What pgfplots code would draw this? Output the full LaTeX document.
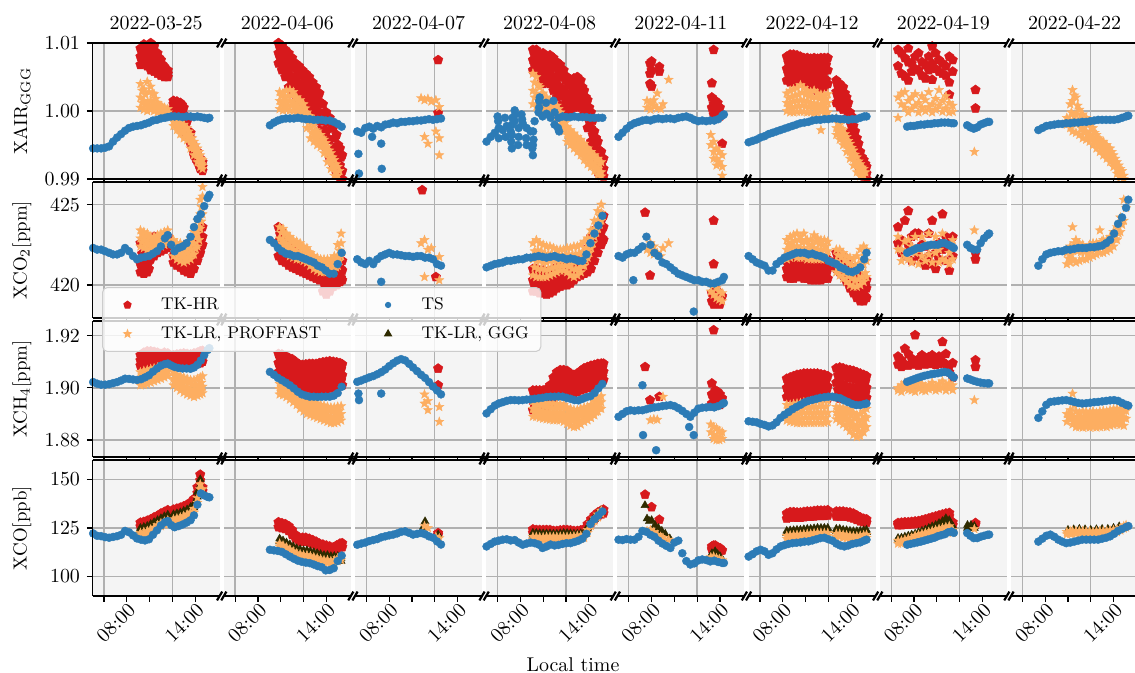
\documentclass[border=0pt]{standalone}
\usepackage{pgfplots}
\usepackage{pgfplotstable}
\pgfplotsset{compat=1.18}
\usetikzlibrary{plotmarks}

\definecolor{hrred}{HTML}{D7191C}
\definecolor{lrorange}{HTML}{FDAE61}
\definecolor{tsblue}{HTML}{2C7BB6}
\definecolor{gggdark}{HTML}{2F2B00}
\definecolor{bgpanel}{HTML}{F4F4F4}
\definecolor{gridgray}{HTML}{B0B0B0}
\definecolor{legendgray}{HTML}{CCCCCC}

\pgfdeclareplotmark{fstar}{%
  \pgfpathmoveto{\pgfpointpolar{90}{\pgfplotmarksize}}%
  \pgfpathlineto{\pgfpointpolar{126}{0.42*\pgfplotmarksize}}%
  \pgfpathlineto{\pgfpointpolar{162}{\pgfplotmarksize}}%
  \pgfpathlineto{\pgfpointpolar{198}{0.42*\pgfplotmarksize}}%
  \pgfpathlineto{\pgfpointpolar{234}{\pgfplotmarksize}}%
  \pgfpathlineto{\pgfpointpolar{270}{0.42*\pgfplotmarksize}}%
  \pgfpathlineto{\pgfpointpolar{306}{\pgfplotmarksize}}%
  \pgfpathlineto{\pgfpointpolar{342}{0.42*\pgfplotmarksize}}%
  \pgfpathlineto{\pgfpointpolar{18}{\pgfplotmarksize}}%
  \pgfpathlineto{\pgfpointpolar{54}{0.42*\pgfplotmarksize}}%
  \pgfpathclose
  \pgfusepathqfillstroke}

% ---------------- TS (blue) ----------------
\pgfplotstableread{
t a b c e
7.05 0.9945 422.3 1.9022 122.2
7.4 0.9945 422.2 1.9016 121.0
7.75 0.9945 422.2 1.9012 120.8
8.1 0.9946 422.1 1.9012 120.3
8.45 0.9948 422.0 1.9014 120.0
8.8 0.9955 421.9 1.9018 120.4
9.15 0.9961 421.9 1.9022 120.8
9.5 0.9966 422.0 1.9028 121.5
9.85 0.9971 422.3 1.9035 123.5
10.2 0.9975 422.1 1.9034 122.8
10.55 0.9977 421.8 1.9032 121.2
10.9 0.9978 421.6 1.9030 119.6
11.25 0.9979 421.7 1.9033 119.0
11.6 0.9981 421.75 1.9040 118.6
11.95 0.9983 421.8 1.9048 119.2
12.3 0.9986 421.95 1.9062 121.5
12.65 0.9987 422.1 1.9074 123.8
13.0 0.9989 422.4 1.9085 126.3
13.35 0.9990 422.9 1.9091 128.0
13.6 0.9991 423.1 1.9093 128.6
13.9 0.9992 422.5 1.9086 126.5
14.2 0.9992 422.1 1.9080 125.4
14.55 0.9992 422.3 1.9076 126.0
14.9 0.9991 422.4 1.9074 126.8
15.25 0.9992 422.6 1.9074 127.8
15.6 0.9992 423.0 1.9073 129.0
15.9 0.9991 423.6 1.9078 131.5
16.2 0.9992 424.1 1.9088 137.0
16.5 0.9991 424.4 1.9105 142.8
16.8 0.9990 424.9 1.9125 141.8
17.1 0.9989 425.4 1.9145 141.0
17.25 0.9990 425.6 1.9152 140.8
}\TSa
\pgfplotstableread{
t a b c e
11.05 0.9979 422.8 1.9061 113.8
11.4 0.9983 422.6 1.9050 113.5
11.75 0.9986 422.3 1.9038 113.2
12.1 0.9988 422.1 1.9029 112.7
12.45 0.9989 421.95 1.9020 111.5
12.8 0.9989 421.9 1.9010 110.3
13.15 0.9989 421.8 1.8998 109.2
13.5 0.9990 421.8 1.8985 108.2
13.85 0.9989 421.7 1.8975 107.6
14.2 0.9988 421.6 1.8970 107.2
14.55 0.9988 421.5 1.8966 106.9
14.9 0.9987 421.4 1.8966 106.2
15.25 0.9987 421.2 1.8965 105.4
15.6 0.9987 421.1 1.8966 104.8
15.95 0.9986 420.9 1.8966 103.2
16.3 0.9986 420.7 1.8966 103.4
16.65 0.9984 420.7 1.8970 104.3
17.0 0.9981 421.3 1.8980 108.0
17.35 0.9977 422.0 1.9004 110.8
}\TSb
\pgfplotstableread{
t a b c e
7.2 0.9970 421.6 1.9023 116.4
7.55 0.9968 421.4 1.9028 117.0
7.9 0.9975 421.3 1.9034 117.5
8.25 0.9977 421.5 1.9040 118.3
8.6 0.9974 421.3 1.9045 118.8
8.95 0.9978 421.6 1.9052 119.3
9.3 0.9976 421.8 1.9060 120.2
9.65 0.9980 421.9 1.9070 120.7
10.0 0.9981 422.0 1.9083 121.2
10.35 0.9983 421.9 1.9094 121.6
10.7 0.9982 421.9 1.9104 122.2
11.05 0.9984 421.85 1.9110 123.0
11.4 0.9984 421.8 1.9105 123.3
11.75 0.9985 421.8 1.9092 122.5
12.1 0.9985 421.75 1.9078 121.6
12.45 0.9986 421.8 1.9064 122.0
12.8 0.9986 421.8 1.9050 122.4
13.15 0.9987 421.7 1.9038 121.8
13.5 0.9988 421.7 1.9022 120.7
13.85 0.9987 421.6 1.9005 120.0
14.2 0.9988 421.3 1.8990 118.1
14.55 0.9989 421.2 1.8975 116.5
7.3 0.9937 nan 1.8978 nan
7.35 0.9908 nan 1.8953 nan
8.5 0.9962 nan nan nan
9.3 0.9952 420.2 1.8978 nan
9.35 0.9915 nan nan nan
}\TSc
\pgfplotstableread{
t a b c e
7.03 0.9955 421.1 1.8902 115.5
7.4 0.9962 421.2 1.8918 116.8
7.75 0.9968 421.3 1.8932 118.0
8.1 0.9975 421.35 1.8940 118.5
8.45 0.9972 421.4 1.8945 119.0
8.8 0.9978 421.5 1.8950 119.2
9.15 0.9970 421.5 1.8953 118.6
9.5 0.9985 421.55 1.8953 118.8
9.85 0.9975 421.6 1.8952 117.5
10.2 0.9982 421.6 1.8953 116.4
10.55 0.9975 421.7 1.8955 117.0
10.9 0.9970 421.7 1.8956 117.5
11.25 0.9985 421.75 1.8958 117.2
11.6 0.9998 421.8 1.8960 116.5
11.95 0.9992 421.75 1.8962 114.7
12.3 0.9996 421.7 1.8965 115.5
12.65 0.9990 421.75 1.8966 116.5
13.0 0.9998 421.8 1.8966 116.0
13.35 0.9990 421.7 1.8967 116.3
13.7 0.9992 421.7 1.8966 116.8
14.05 0.9991 421.6 1.8962 117.2
14.4 0.9991 421.65 1.8958 117.2
14.75 0.9992 421.6 1.8953 117.8
15.1 0.9991 421.5 1.8952 118.5
15.45 0.9991 421.5 1.8958 119.5
15.8 0.9991 421.9 1.8964 122.0
16.15 0.9990 422.6 1.8968 127.0
16.5 0.9990 423.2 1.8980 129.5
16.85 0.9990 423.7 1.8998 131.5
17.2 0.9990 424.3 1.9015 133.5
8.0 0.9992 nan nan nan
8.05 0.9985 nan nan nan
8.1 0.9960 nan nan nan
8.65 0.9990 nan nan nan
8.7 0.9962 nan nan nan
9.2 0.9955 nan nan nan
9.25 0.9945 nan nan nan
9.25 0.9965 nan nan nan
9.28 0.9980 nan nan nan
9.3 0.9990 nan nan nan
9.5 1.0001 nan nan nan
9.55 0.9995 nan nan nan
9.8 0.9950 nan nan nan
9.85 0.9962 nan nan nan
10.1 0.9995 nan nan nan
10.15 0.9988 nan nan nan
10.5 0.9960 nan nan nan
10.55 0.9950 nan nan nan
11.05 0.9945 nan nan nan
11.1 0.9935 nan nan nan
11.1 0.9950 nan nan nan
11.12 0.9970 nan nan nan
11.15 0.9958 nan nan nan
11.65 1.0005 nan nan nan
11.65 1.0015 nan nan nan
11.7 1.0020 nan nan nan
12.25 1.0012 nan nan nan
12.9 1.0015 nan nan nan
13.0 0.9980 nan nan nan
13.3 0.9975 nan nan nan
13.4 0.9970 nan nan nan
}\TSd
\pgfplotstableread{
t a b c e
7.1 0.9962 421.8 1.8889 119.0
7.45 0.9968 421.7 1.8900 118.8
7.8 0.9974 421.9 1.8910 119.3
8.15 0.9979 422.0 1.8914 119.0
8.5 0.9982 422.0 1.8912 119.0
8.85 0.9984 422.2 1.8914 120.5
9.2 0.9986 422.4 1.8914 123.5
9.55 0.9987 423.0 1.8918 123.0
9.9 0.9986 422.5 1.8922 121.5
10.25 0.9988 422.0 1.8925 120.5
10.6 0.9989 421.8 1.8927 118.5
10.95 0.9988 421.4 1.8930 117.0
11.3 0.9989 421.3 1.8932 115.8
11.65 0.9989 421.1 1.8934 114.7
12.0 0.9988 420.9 1.8930 117.5
12.35 0.9990 420.7 1.8922 118.5
12.7 0.9991 420.6 1.8912 112.0
13.05 0.9992 420.5 1.8900 108.0
13.4 0.9990 420.4 1.8889 106.2
13.75 0.9987 420.3 1.8905 106.8
14.1 0.9985 420.3 1.8920 108.3
14.45 0.9986 420.2 1.8924 108.8
14.8 0.9985 420.2 1.8925 108.5
15.15 0.9986 420.1 1.8927 107.8
15.5 0.9986 420.1 1.8925 108.2
15.85 0.9988 420.2 1.8930 107.5
16.2 0.9993 420.3 1.8938 107.0
16.35 0.9995 420.5 1.8942 107.0
8.4 nan 420.3 nan nan
13.7 nan 418.35 1.8819 nan
9.2 nan nan 1.9010 nan
9.25 nan nan 1.8819 nan
10.4 nan nan 1.8761 nan
13.3 nan nan 1.8850 nan
}\TSe
\pgfplotstableread{
t a b c e
7.0 0.9954 421.8 1.8872 110.3
7.35 0.9956 421.6 1.8870 111.5
7.7 0.9958 421.4 1.8868 113.0
8.05 0.9961 421.3 1.8862 113.8
8.4 0.9963 421.2 1.8858 113.0
8.75 0.9966 420.9 1.8852 111.2
9.1 0.9968 420.9 1.8856 112.0
9.45 0.9970 421.3 1.8868 114.0
9.8 0.9972 421.5 1.8885 115.5
10.15 0.9974 421.7 1.8897 116.2
10.5 0.9976 421.8 1.8907 116.8
10.85 0.9978 421.9 1.8918 117.2
11.2 0.9980 422.0 1.8927 117.4
11.55 0.9982 422.0 1.8935 117.6
11.9 0.9983 422.0 1.8944 118.0
12.25 0.9984 421.9 1.8950 118.1
12.6 0.9986 421.95 1.8954 118.6
12.95 0.9987 421.85 1.8958 119.2
13.3 0.9987 421.8 1.8962 119.8
13.65 0.9988 421.7 1.8964 120.0
14.0 0.9988 421.5 1.8966 119.2
14.35 0.9989 421.4 1.8966 118.5
14.7 0.9989 421.3 1.8963 117.0
15.05 0.9988 421.1 1.8960 116.0
15.4 0.9988 421.0 1.8952 115.5
15.75 0.9987 420.85 1.8945 116.0
16.1 0.9988 420.8 1.8938 116.8
16.45 0.9988 420.9 1.8934 117.2
16.8 0.9990 421.1 1.8934 117.6
17.15 0.9992 421.6 1.8938 118.5
17.35 0.9992 422.0 1.8940 119.0
}\TSf
\pgfplotstableread{
t a b c e
9.4 0.9977 422.0 1.9023 116.4
9.7 0.9978 422.1 1.9028 116.8
10.0 0.9978 422.2 1.9033 117.2
10.3 0.9979 422.3 1.9038 117.6
10.6 0.9980 422.3 1.9042 118.0
10.9 0.9980 422.4 1.9046 118.5
11.2 0.9981 422.45 1.9049 119.0
11.5 0.9981 422.5 1.9052 119.5
11.8 0.9982 422.5 1.9054 120.0
12.1 0.9982 422.5 1.9056 120.8
12.4 0.9983 422.6 1.9059 121.3
12.7 0.9983 422.6 1.9061 121.8
13.0 0.9983 422.5 1.9058 122.8
13.3 0.9982 422.4 1.9048 123.2
13.5 0.9982 422.3 1.9040 122.5
14.67 0.9979 422.5 1.9036 122.4
14.95 0.9976 422.3 1.9032 121.0
15.25 0.9974 422.2 1.9027 119.8
15.55 0.9976 422.2 1.9023 119.8
15.85 0.9980 422.6 1.9020 120.5
16.15 0.9982 422.9 1.9018 121.0
16.45 0.9984 423.1 1.9017 121.5
16.6 0.9984 423.2 1.9017 121.6
}\TSg
\pgfplotstableread{
t a b c e
9.4 0.9972 421.2 1.8885 118.0
9.75 0.9975 421.6 1.8910 119.5
10.1 0.9978 421.9 1.8935 121.0
10.45 0.9979 422.0 1.8946 121.6
10.8 0.9980 422.05 1.8948 120.5
11.15 0.9981 422.1 1.8950 119.0
11.5 0.9981 422.1 1.8952 118.0
11.85 0.9982 422.2 1.8953 117.2
12.2 0.9982 422.2 1.8950 117.5
12.55 0.9983 422.25 1.8946 118.0
12.9 0.9983 422.3 1.8942 118.5
13.25 0.9984 422.3 1.8940 119.0
13.6 0.9984 422.3 1.8941 119.0
13.95 0.9985 422.35 1.8943 119.0
14.3 0.9986 422.35 1.8945 119.0
14.65 0.9987 422.4 1.8946 119.0
15.0 0.9987 422.45 1.8948 119.5
15.35 0.9987 422.6 1.8950 120.0
15.7 0.9987 422.8 1.8952 120.7
16.05 0.9987 423.2 1.8953 122.0
16.4 0.9988 423.8 1.8950 123.5
16.75 0.9990 424.2 1.8942 124.5
17.1 0.9992 424.8 1.8935 125.5
17.3 0.9993 425.3 1.8932 126.0
}\TSh

% ---------------- TK-HR (red) ----------------
\pgfplotstableread{
t a1 a2 a3 b1 b2 b3 c1 c2 c3 e1 e2
11.2 1.0068 1.0080 1.0092 420.8 421.3 422.6 1.9085 1.9105 1.9125 127.8 125.8
11.5 1.0070 1.0085 1.0098 420.7 421.0 421.6 1.9090 1.9115 1.9135 128.2 126.2
11.8 1.0066 1.0082 1.0096 420.8 421.2 421.8 1.9095 1.9120 1.9140 128.8 126.8
12.1 1.0060 1.0078 1.0100 421.6 422.2 422.8 1.9095 1.9120 1.9140 129.5 127.5
12.4 1.0058 1.0075 1.0095 421.8 422.4 423.0 1.9090 1.9115 1.9138 130.5 128.5
12.7 1.0055 1.0070 1.0085 422.0 422.5 423.0 1.9088 1.9110 1.9135 131.3 129.3
13.0 1.0052 1.0062 1.0075 422.1 422.6 423.0 1.9090 1.9112 1.9130 132.5 130.5
13.3 1.0050 1.0056 1.0065 422.2 422.7 423.1 1.9095 1.9115 1.9135 133.3 131.3
13.6 1.0050 1.0055 1.0060 422.3 422.6 423.0 1.9095 1.9115 1.9132 134.2 132.2
14.1 1.0004 1.0010 1.0015 421.4 421.8 422.2 1.9085 1.9105 1.9125 134.5 132.5
14.4 1.0001 1.0008 1.0014 421.2 421.6 422.0 1.9085 1.9105 1.9128 135.0 133.0
14.7 1.0000 1.0006 1.0012 421.1 421.5 422.0 1.9088 1.9108 1.9130 135.5 133.5
15.0 0.9985 0.9995 1.0005 420.9 421.4 421.9 1.9090 1.9110 1.9132 136.2 134.2
15.3 0.9962 0.9972 0.9985 420.8 421.3 422.0 1.9090 1.9110 1.9130 137.0 135.0
15.6 0.9952 0.9960 0.9968 420.7 421.5 422.2 1.9088 1.9108 1.9128 138.2 136.0
15.9 0.9935 0.9940 0.9946 421.0 421.8 422.6 1.9090 1.9110 1.9132 140.0 137.5
16.2 0.9925 0.9932 0.9940 421.5 422.3 423.0 1.9092 1.9112 1.9135 146.0 143.0
16.45 0.9915 0.9922 0.9930 422.0 422.8 423.5 1.9095 1.9118 1.9140 152.5 149.5
16.65 0.9912 0.9918 0.9925 422.5 423.0 423.6 1.9100 1.9120 1.9142 146.0 144.0
}\HRa
\pgfplotstableread{
t a1 a2 a3 b1 b2 b3 c1 c2 c3 e1 e2
11.8 1.0070 1.0085 1.0100 421.8 422.7 423.6 1.9060 1.9095 1.9130 128.0 125.5
12.1 1.0060 1.0078 1.0096 421.5 422.5 423.3 1.9050 1.9090 1.9128 127.5 125.0
12.4 1.0050 1.0070 1.0090 421.4 422.1 422.8 1.9040 1.9085 1.9122 127.0 124.5
12.7 1.0035 1.0060 1.0085 421.2 421.8 422.4 1.9030 1.9075 1.9115 126.0 123.5
13.0 1.0028 1.0050 1.0078 421.1 421.6 422.2 1.9020 1.9065 1.9110 124.0 121.5
13.3 1.0022 1.0045 1.0070 421.0 421.5 422.0 1.9012 1.9055 1.9100 121.5 119.5
13.6 1.0018 1.0040 1.0066 420.9 421.4 421.9 1.9005 1.9045 1.9090 120.0 118.0
13.9 1.0014 1.0035 1.0060 420.8 421.3 421.8 1.9002 1.9045 1.9088 120.0 118.0
14.2 1.0008 1.0030 1.0055 420.7 421.2 421.7 1.9000 1.9045 1.9090 120.0 118.0
14.5 1.0002 1.0025 1.0050 420.6 421.1 421.6 1.8998 1.9045 1.9092 119.5 117.5
14.8 0.9995 1.0018 1.0042 420.5 421.0 421.5 1.8995 1.9042 1.9092 118.8 116.8
15.1 0.9985 1.0010 1.0035 420.4 420.9 421.4 1.8992 1.9040 1.9092 118.0 116.0
15.4 0.9972 0.9998 1.0026 420.3 420.8 421.3 1.8990 1.9040 1.9095 117.0 115.0
15.7 0.9960 0.9985 1.0010 419.6 420.4 421.2 1.8992 1.9042 1.9098 116.5 114.5
16.0 0.9945 0.9970 0.9998 419.4 420.2 421.1 1.8995 1.9045 1.9100 116.0 114.0
16.3 0.9930 0.9958 0.9990 419.6 420.3 421.1 1.8998 1.9048 1.9102 115.5 113.5
16.6 0.9920 0.9945 0.9975 419.9 420.4 421.0 1.9002 1.9050 1.9100 115.0 113.0
16.9 0.9908 0.9935 0.9965 420.0 420.5 421.1 1.9005 1.9050 1.9098 116.0 114.0
17.2 0.9902 0.9920 0.9945 420.2 420.7 421.3 1.9008 1.9050 1.9095 117.0 115.0
17.4 0.9900 0.9912 0.9935 420.3 420.9 421.5 1.9010 1.9048 1.9090 117.2 115.2
}\HRb
\pgfplotstableread{
t a1 a2 a3 b1 b2 b3 c1 c2 c3 e1 e2
12.9 nan nan nan 425.9 nan nan nan nan nan nan nan
14.1 nan nan nan 420.5 nan nan nan nan nan nan nan
14.3 1.0075 0.9997 nan nan nan nan 1.9074 1.9010 nan 122.4 121.5
}\HRc
\pgfplotstableread{
t a1 a2 a3 b1 b2 b3 c1 c2 c3 e1 e2
11.1 1.0060 1.0075 1.0090 419.6 420.3 421.0 1.8915 1.8950 1.8990 124.3 122.5
11.4 1.0056 1.0072 1.0090 419.6 420.3 421.0 1.8915 1.8950 1.8990 124.0 122.3
11.7 1.0040 1.0060 1.0082 419.5 420.2 420.9 1.8915 1.8950 1.8990 124.0 122.3
12.0 1.0040 1.0060 1.0085 419.5 420.2 420.9 1.8920 1.8955 1.8990 124.0 122.0
12.3 1.0042 1.0062 1.0080 419.4 420.1 420.8 1.8930 1.8960 1.8995 124.0 122.0
12.6 1.0040 1.0060 1.0082 419.5 420.1 420.8 1.8940 1.8970 1.9010 124.0 122.0
12.9 1.0030 1.0050 1.0078 419.6 420.3 421.0 1.8955 1.8995 1.9040 123.5 121.8
13.2 1.0020 1.0045 1.0072 419.8 420.4 421.0 1.8970 1.9015 1.9060 123.5 121.8
13.5 1.0008 1.0035 1.0068 419.9 420.5 421.2 1.8978 1.9025 1.9068 123.8 122.0
13.8 1.0005 1.0030 1.0060 420.0 420.6 421.3 1.8978 1.9025 1.9068 124.0 122.2
14.1 1.0002 1.0025 1.0050 420.0 420.6 421.3 1.8980 1.9025 1.9065 124.0 122.2
14.4 1.0001 1.0022 1.0046 420.1 420.7 421.2 1.8980 1.9020 1.9055 123.8 122.0
14.7 1.0005 1.0025 1.0048 420.3 420.8 421.3 1.8980 1.9018 1.9050 123.5 121.8
15.0 1.0008 1.0028 1.0050 420.5 420.9 421.4 1.8985 1.9020 1.9055 123.5 121.8
15.3 1.0005 1.0025 1.0045 420.6 421.0 421.6 1.8990 1.9028 1.9065 123.8 122.0
15.6 0.9995 1.0010 1.0030 420.7 421.2 421.8 1.8995 1.9035 1.9075 124.5 122.5
15.9 0.9975 0.9995 1.0016 420.8 421.5 422.3 1.9000 1.9040 1.9080 127.0 125.0
16.2 0.9955 0.9975 0.9998 421.0 422.0 423.0 1.9005 1.9045 1.9085 129.5 127.5
16.5 0.9930 0.9950 0.9970 421.5 422.5 423.4 1.9010 1.9050 1.9088 131.5 129.5
16.8 0.9910 0.9930 0.9955 422.0 423.0 423.8 1.9020 1.9055 1.9092 133.0 131.0
17.1 0.9905 0.9920 0.9940 422.5 423.3 424.0 1.9025 1.9060 1.9093 134.0 132.0
17.3 0.9904 0.9915 0.9930 422.8 423.6 424.3 1.9030 1.9062 1.9093 134.5 132.5
}\HRd
\pgfplotstableread{
t a1 a2 a3 b1 b2 b3 c1 c2 c3 e1 e2
9.43 nan nan nan 424.5 nan nan 1.9080 nan nan 142.2 nan
9.87 1.0040 1.0055 1.0070 420.6 nan nan 1.8953 nan nan nan nan
10.0 1.0036 1.0060 1.0073 nan nan nan nan nan nan 135.8 nan
10.68 1.0065 1.0058 nan nan nan nan 1.8966 nan nan 129.3 nan
15.29 1.0041 1.0020 1.0005 419.0 419.5 nan 1.9017 1.8975 1.8940 115.5 114.0
15.45 1.0090 1.0010 0.9995 424.0 421.3 418.8 1.9221 1.8960 1.8930 116.0 114.5
15.6 1.0015 1.0000 nan 419.2 419.8 nan 1.8990 1.8950 nan 116.0 114.5
15.8 1.0012 0.9995 nan 419.0 419.6 nan 1.8985 1.8945 nan 115.0 113.5
16.0 1.0005 0.9992 nan 418.8 419.4 nan 1.8975 1.8935 nan 114.7 113.0
16.2 0.9952 nan nan 419.3 nan nan 1.8960 nan nan 113.5 nan
}\HRe
\pgfplotstableread{
t a1 a2 a3 b1 b2 b3 c1 c2 c3 e1 e2
10.35 1.0045 1.0062 1.0080 420.5 421.0 421.5 1.8965 1.9000 1.9035 132.5 129.8
10.65 1.0042 1.0062 1.0083 420.4 420.9 421.4 1.8962 1.9000 1.9040 133.2 130.5
10.95 1.0042 1.0063 1.0083 420.4 420.9 421.4 1.8960 1.9005 1.9045 133.2 130.5
11.25 1.0042 1.0063 1.0082 420.5 421.0 421.5 1.8958 1.9005 1.9050 133.0 130.3
11.55 1.0042 1.0062 1.0080 420.5 421.0 421.6 1.8958 1.9005 1.9052 133.0 130.3
11.85 1.0041 1.0060 1.0078 420.4 420.9 421.5 1.8958 1.9008 1.9055 133.3 130.6
12.15 1.0041 1.0060 1.0078 420.4 420.9 421.5 1.8960 1.9010 1.9055 133.5 130.8
12.45 1.0036 1.0058 1.0077 420.3 420.8 421.4 1.8960 1.9010 1.9055 133.5 130.8
12.75 1.0032 1.0055 1.0078 420.3 420.8 421.4 1.8962 1.9010 1.9055 133.8 131.0
13.05 1.0030 1.0055 1.0077 420.3 420.8 421.4 1.8962 1.9010 1.9055 134.0 131.3
13.35 1.0032 1.0055 1.0078 420.3 420.8 421.5 1.8962 1.9010 1.9052 134.0 131.3
13.65 1.0035 1.0058 1.0078 420.4 420.9 421.5 1.8962 1.9005 1.9050 134.0 131.3
13.95 1.0040 1.0060 1.0078 420.4 421.0 421.6 1.8960 1.9005 1.9045 134.2 131.5
14.7 1.0012 1.0028 1.0045 421.0 421.5 422.0 1.8965 1.9020 1.9075 133.5 131.0
15.0 1.0006 1.0022 1.0040 420.8 421.4 422.0 1.8960 1.9018 1.9078 133.5 131.0
15.3 1.0002 1.0018 1.0035 420.6 421.2 421.8 1.8958 1.9012 1.9075 133.5 131.0
15.6 0.9990 1.0005 1.0020 420.2 420.8 421.5 1.8955 1.9005 1.9070 133.2 130.8
15.9 0.9970 0.9985 0.9998 419.8 420.5 421.2 1.8952 1.9002 1.9068 133.0 130.5
16.2 0.9950 0.9962 0.9978 419.5 420.2 421.0 1.8952 1.9000 1.9065 132.5 130.0
16.5 0.9930 0.9945 0.9960 419.2 419.9 420.8 1.8955 1.9000 1.9060 131.5 129.2
16.8 0.9912 0.9925 0.9940 419.0 419.7 420.5 1.8958 1.9000 1.9055 130.5 128.5
17.1 0.9904 0.9915 0.9928 419.0 419.6 420.3 1.8960 1.9000 1.9050 129.8 128.0
17.35 0.9900 0.9908 0.9918 419.2 419.8 420.3 1.8962 1.9000 1.9045 129.5 127.8
}\HRf
\pgfplotstableread{
t a1 a2 a3 b1 b2 b3 c1 c2 c3 e1 e2
8.6 1.0066 1.0090 nan 423.6 422.6 nan 1.9090 1.9120 nan 127.6 126.5
8.9 1.0085 1.0055 nan 422.0 422.8 nan 1.9106 1.9080 nan 127.8 126.5
9.2 1.0051 1.0078 nan 424.0 421.8 nan 1.9150 1.9090 nan 128.0 126.8
9.5 1.0072 1.0045 1.0092 424.6 422.5 nan 1.9130 1.9085 nan 128.0 126.8
9.8 1.0070 1.0058 nan 423.0 421.5 nan 1.9112 1.9090 nan 128.2 127.0
10.1 1.0062 1.0080 nan 422.2 423.2 nan 1.9202 1.9100 nan 128.4 127.0
10.4 1.0085 1.0060 nan 423.2 421.8 nan 1.9110 1.9085 nan 128.6 127.2
10.7 1.0072 1.0052 nan 421.5 422.5 nan 1.9125 1.9095 nan 129.0 127.5
11.0 1.0068 1.0048 nan 422.4 421.2 nan 1.9110 1.9090 nan 129.5 128.0
11.3 1.0080 1.0060 nan 423.2 421.8 nan 1.9118 1.9092 nan 130.0 128.5
11.6 1.0095 1.0046 1.0070 424.0 421.3 nan 1.9125 1.9095 nan 130.5 129.0
11.9 1.0085 1.0062 nan 422.0 421.0 nan 1.9110 1.9088 nan 131.0 129.5
12.2 1.0075 1.0058 nan 422.6 421.6 nan 1.9120 1.9092 nan 131.5 130.0
12.5 1.0070 1.0055 nan 424.4 422.2 nan 1.9176 1.9100 nan 132.0 130.5
12.8 1.0066 1.0052 nan 423.0 421.5 nan 1.9130 1.9090 nan 132.5 131.0
13.1 1.0080 1.0042 1.0024 420.9 422.4 nan 1.9085 1.9060 nan 132.8 131.0
13.4 1.0075 1.0058 nan 421.8 423.0 nan 1.9095 1.9040 nan 128.0 126.5
15.4 1.0031 1.0004 nan 422.0 421.6 nan 1.9106 1.9080 nan 127.6 126.8
}\HRg
\pgfplotstableread{
t a1 a2 a3 b1 b2 b3 c1 c2 c3 e1 e2
12.0 nan nan nan nan nan nan nan nan nan nan nan
}\HRh

% ---- TK-HR, further points inside the dense clouds ----
\pgfplotstableread{
u a4 a5 b4 b5 c4 c5
11.35 1.0074 1.0086 421.05 421.95 1.9095 1.9115
11.65 1.0078 1.0092 420.85 421.3 1.9102 1.9125
11.95 1.0074 1.0089 421.0 421.5 1.9108 1.9130
12.25 1.0069 1.0089 421.9 422.5 1.9108 1.9130
12.55 1.0066 1.0085 422.1 422.7 1.9102 1.9126
12.85 1.0062 1.0078 422.25 422.75 1.9099 1.9122
13.15 1.0057 1.0068 422.35 422.8 1.9101 1.9121
13.45 1.0053 1.0060 422.45 422.9 1.9105 1.9125
14.25 1.0007 1.0012 421.6 422.0 1.9095 1.9115
14.55 1.0004 1.0011 421.4 421.8 1.9095 1.9116
14.85 1.0003 1.0009 421.3 421.75 1.9098 1.9119
15.15 0.9980 0.9990 421.15 421.65 1.9100 1.9121
15.45 0.9960 0.9970 421.0 421.75 1.9098 1.9118
15.75 0.9945 0.9952 421.2 422.0 1.9098 1.9119
16.05 0.9930 0.9936 421.65 422.45 1.9100 1.9122
16.35 0.9920 0.9928 421.9 422.6 1.9104 1.9128
16.55 0.9915 0.9922 422.4 423.0 1.9107 1.9130
}\HRax
\pgfplotstableread{
u a4 a5 b4 b5 c4 c5
11.95 1.0078 1.0092 422.25 423.15 1.9078 1.9112
12.25 1.0069 1.0087 422.0 422.9 1.9070 1.9109
12.55 1.0060 1.0080 421.75 422.45 1.9062 1.9104
12.85 1.0048 1.0072 421.5 422.1 1.9052 1.9095
13.15 1.0039 1.0064 421.35 421.9 1.9042 1.9088
13.45 1.0034 1.0058 421.25 421.75 1.9034 1.9078
13.75 1.0029 1.0053 421.15 421.65 1.9025 1.9068
14.05 1.0024 1.0048 421.05 421.55 1.9024 1.9066
14.35 1.0019 1.0042 420.95 421.45 1.9022 1.9068
14.65 1.0014 1.0038 420.85 421.35 1.9022 1.9068
14.95 1.0006 1.0030 420.75 421.25 1.9018 1.9067
15.25 0.9998 1.0022 420.65 421.15 1.9016 1.9066
15.55 0.9985 1.0012 420.55 421.05 1.9015 1.9068
15.85 0.9972 0.9998 420.0 420.8 1.9017 1.9070
16.15 0.9958 0.9984 419.8 420.65 1.9020 1.9072
16.45 0.9944 0.9974 419.95 420.7 1.9023 1.9075
16.75 0.9932 0.9960 420.15 420.7 1.9026 1.9075
17.05 0.9922 0.9950 420.25 420.8 1.9028 1.9074
17.3 0.9911 0.9932 420.45 421.0 1.9029 1.9072
}\HRbx
\pgfplotstableread{
u a4 a5 b4 b5 c4 c5
11.25 1.0068 1.0082 419.95 420.65 1.8932 1.8970
11.55 1.0064 1.0081 419.95 420.65 1.8932 1.8970
11.85 1.0050 1.0071 419.85 420.55 1.8932 1.8970
12.15 1.0050 1.0072 419.85 420.55 1.8938 1.8972
12.45 1.0052 1.0071 419.75 420.45 1.8945 1.8978
12.75 1.0050 1.0071 419.8 420.45 1.8955 1.8990
13.05 1.0040 1.0064 419.95 420.65 1.8975 1.9018
13.35 1.0032 1.0058 420.1 420.7 1.8992 1.9038
13.65 1.0022 1.0052 420.2 420.85 1.9002 1.9046
13.95 1.0018 1.0045 420.3 420.95 1.9002 1.9046
14.25 1.0014 1.0038 420.3 420.95 1.9002 1.9045
14.55 1.0012 1.0034 420.4 420.95 1.9000 1.9038
14.85 1.0015 1.0036 420.55 421.05 1.8999 1.9034
15.15 1.0018 1.0039 420.7 421.15 1.9002 1.9038
15.45 1.0015 1.0035 420.8 421.3 1.9009 1.9046
15.75 1.0002 1.0020 420.95 421.5 1.9015 1.9055
16.05 0.9985 1.0005 421.15 421.9 1.9020 1.9060
16.35 0.9965 0.9986 421.5 422.5 1.9025 1.9065
16.65 0.9940 0.9960 422.0 422.95 1.9030 1.9069
16.95 0.9920 0.9942 422.5 423.4 1.9038 1.9074
17.2 0.9912 0.9930 422.9 423.65 1.9042 1.9076
}\HRdx
\pgfplotstableread{
u a4 a5 b4 b5 c4 c5
10.5 1.0054 1.0071 420.75 421.25 1.8982 1.9018
10.8 1.0052 1.0072 420.65 421.15 1.8981 1.9020
11.1 1.0052 1.0073 420.65 421.15 1.8982 1.9025
11.4 1.0052 1.0072 420.75 421.25 1.8982 1.9028
11.7 1.0052 1.0071 420.75 421.3 1.8982 1.9028
12.0 1.0050 1.0069 420.65 421.2 1.8983 1.9032
12.3 1.0050 1.0069 420.65 421.2 1.8985 1.9032
12.6 1.0047 1.0068 420.55 421.1 1.8985 1.9032
12.9 1.0044 1.0066 420.55 421.1 1.8986 1.9032
13.2 1.0042 1.0066 420.55 421.1 1.8986 1.9032
13.5 1.0044 1.0066 420.55 421.15 1.8986 1.9031
13.8 1.0046 1.0068 420.65 421.2 1.8984 1.9028
14.85 1.0020 1.0036 421.25 421.75 1.8992 1.9048
15.15 1.0014 1.0031 421.1 421.7 1.8989 1.9048
15.45 1.0010 1.0026 420.9 421.5 1.8985 1.9044
15.75 0.9998 1.0012 420.5 421.15 1.8980 1.9038
16.05 0.9978 0.9992 420.15 420.85 1.8977 1.9035
16.35 0.9956 0.9970 419.85 420.6 1.8976 1.9032
16.65 0.9938 0.9952 419.55 420.35 1.8978 1.9030
16.95 0.9918 0.9932 419.35 420.1 1.8979 1.9028
17.25 0.9910 0.9922 419.3 419.95 1.8980 1.9025
}\HRfx
\pgfplotstableread{
u a4 a5 b4 b5 c4 c5
12.0 nan nan nan nan nan nan
}\NOX

% ---------------- TK-LR PROFFAST (orange) ----------------
\pgfplotstableread{
t a1 a2 a3 b1 b2 b3 c1 c2 c3 e1 e2
11.2 1.0005 1.0020 1.0040 422.4 422.9 423.4 1.9010 1.9035 1.9060 122.5 121.0
11.5 1.0002 1.0015 1.0032 422.3 422.8 423.3 1.9012 1.9040 1.9065 123.0 121.5
11.8 1.0000 1.0012 1.0043 422.2 422.7 423.2 1.9015 1.9045 1.9068 123.5 122.0
12.1 1.0002 1.0015 1.0036 422.1 422.6 423.0 1.9020 1.9050 1.9072 124.3 122.8
12.4 1.0000 1.0010 1.0025 422.2 422.6 423.0 1.9025 1.9055 1.9075 125.2 123.7
12.7 0.9998 1.0005 1.0012 422.3 422.7 423.1 1.9030 1.9058 1.9078 126.5 125.0
13.0 0.9996 1.0002 1.0008 422.4 422.8 423.2 1.9035 1.9060 1.9080 127.5 126.0
13.3 0.9995 1.0000 1.0005 422.5 422.9 423.3 1.9040 1.9062 1.9082 128.3 126.8
13.6 0.9994 0.9998 1.0003 422.6 423.0 423.4 1.9045 1.9065 1.9085 129.0 127.5
14.1 0.9978 0.9985 0.9990 421.8 422.3 422.8 1.9010 1.9035 1.9060 129.5 128.0
14.4 0.9972 0.9980 0.9987 421.6 422.1 422.6 1.9000 1.9025 1.9050 130.0 128.5
14.7 0.9966 0.9975 0.9983 421.5 422.0 422.6 1.8990 1.9015 1.9045 130.5 129.0
15.0 0.9960 0.9970 0.9980 421.4 421.9 422.5 1.8982 1.9005 1.9040 131.2 129.7
15.3 0.9957 0.9965 0.9975 421.5 422.0 422.6 1.8975 1.9000 1.9035 132.0 130.5
15.6 0.9945 0.9955 0.9965 421.6 422.2 422.9 1.8970 1.8995 1.9030 133.0 131.5
15.9 0.9935 0.9945 0.9955 421.9 422.6 423.3 1.8965 1.8990 1.9030 135.0 133.0
16.2 0.9925 0.9935 0.9945 422.4 423.2 424.0 1.8970 1.8995 1.9035 140.5 138.0
16.45 0.9918 0.9925 0.9935 423.5 424.4 425.3 1.8975 1.9000 1.9040 147.5 145.0
16.65 0.9915 0.9920 0.9928 424.4 425.5 426.1 1.8980 1.9005 1.9045 145.0 142.5
}\LRa
\pgfplotstableread{
t a1 a2 a3 b1 b2 b3 c1 c2 c3 e1 e2
11.9 1.0003 1.0015 1.0028 422.3 422.9 423.6 1.8975 1.8995 1.9015 117.0 115.5
12.2 1.0001 1.0012 1.0026 422.2 422.8 423.5 1.8972 1.8992 1.9012 116.0 114.5
12.5 1.0002 1.0014 1.0030 422.0 422.6 423.2 1.8965 1.8985 1.9005 115.0 113.5
12.8 1.0001 1.0015 1.0031 421.8 422.4 423.0 1.8955 1.8975 1.8995 114.0 112.5
13.1 1.0000 1.0012 1.0028 421.7 422.2 422.8 1.8945 1.8965 1.8985 113.0 111.5
13.4 0.9998 1.0008 1.0020 421.6 422.1 422.7 1.8935 1.8955 1.8975 112.0 110.5
13.7 0.9996 1.0004 1.0016 421.6 422.0 422.6 1.8920 1.8945 1.8965 111.5 110.0
14.0 0.9990 0.9998 1.0010 421.5 421.9 422.4 1.8910 1.8935 1.8958 111.0 109.5
14.3 0.9975 0.9988 0.9998 421.4 421.8 422.3 1.8900 1.8928 1.8952 111.0 109.5
14.6 0.9960 0.9975 0.9992 421.2 421.6 422.0 1.8895 1.8922 1.8948 110.5 109.0
14.9 0.9955 0.9965 0.9980 421.0 421.4 421.8 1.8890 1.8915 1.8945 110.0 108.5
15.2 0.9950 0.9960 0.9970 420.9 421.3 421.7 1.8885 1.8910 1.8940 109.5 108.0
15.5 0.9947 0.9955 0.9965 420.8 421.2 421.6 1.8880 1.8905 1.8935 109.0 107.5
15.8 0.9938 0.9948 0.9958 420.8 421.2 421.6 1.8875 1.8900 1.8932 108.5 107.0
16.1 0.9925 0.9937 0.9948 420.8 421.2 421.6 1.8870 1.8895 1.8928 108.5 107.0
16.4 0.9915 0.9925 0.9938 420.8 421.2 421.6 1.8865 1.8890 1.8925 108.0 106.5
16.7 0.9905 0.9915 0.9928 420.9 421.3 421.8 1.8865 1.8890 1.8925 108.5 107.0
17.0 nan 0.9905 0.9918 421.2 421.8 422.5 1.8868 1.8895 1.8928 109.5 108.0
17.3 nan nan nan 421.8 422.6 423.2 1.8875 1.8900 1.8930 110.0 108.5
}\LRb
\pgfplotstableread{
t a1 a2 a3 b1 b2 b3 c1 c2 c3 e1 e2
12.8 1.0019 nan nan 422.6 nan nan nan nan nan nan nan
13.1 1.0016 0.9962 nan 422.8 420.5 nan 1.8975 1.8940 nan 126.0 nan
13.4 1.0018 0.9952 nan 422.2 nan nan 1.8950 1.8915 nan 125.0 nan
13.7 1.0014 nan nan 422.3 nan nan nan nan nan nan nan
14.1 1.0016 0.9970 nan nan nan nan nan nan nan 120.5 nan
14.4 1.0006 0.9960 0.9935 421.75 420.3 nan 1.8927 1.8870 nan 119.8 nan
}\LRc
\pgfplotstableread{
t a1 a2 a3 b1 b2 b3 c1 c2 c3 e1 e2
11.1 1.0010 1.0030 1.0055 420.6 421.6 422.6 1.8890 1.8920 1.8950 120.5 119.0
11.4 1.0006 1.0025 1.0050 420.5 421.5 422.8 1.8889 1.8918 1.8950 120.5 119.0
11.7 1.0003 1.0015 1.0035 420.5 421.5 422.6 1.8885 1.8915 1.8948 120.3 118.8
12.0 1.0001 1.0010 1.0026 420.5 421.4 422.5 1.8882 1.8910 1.8945 120.3 118.8
12.3 1.0000 1.0008 1.0020 420.5 421.4 422.4 1.8880 1.8908 1.8942 120.5 119.0
12.6 0.9998 1.0005 1.0016 420.6 421.5 422.4 1.8878 1.8905 1.8940 120.5 119.0
12.9 0.9995 1.0002 1.0012 420.7 421.5 422.3 1.8876 1.8905 1.8940 120.5 119.0
13.2 0.9990 0.9998 1.0008 420.8 421.5 422.2 1.8876 1.8905 1.8938 120.5 119.0
13.5 0.9980 0.9990 0.9998 420.9 421.5 422.2 1.8876 1.8905 1.8938 120.5 119.0
13.8 0.9970 0.9978 0.9988 420.9 421.5 422.2 1.8870 1.8900 1.8935 120.5 119.0
14.1 0.9955 0.9965 0.9977 420.8 421.5 422.3 1.8862 1.8895 1.8925 120.5 119.0
14.4 0.9950 0.9960 0.9972 420.6 421.4 422.3 1.8855 1.8890 1.8920 120.5 119.0
14.7 0.9945 0.9955 0.9967 420.5 421.4 422.4 1.8850 1.8885 1.8915 120.7 119.2
15.0 0.9940 0.9950 0.9962 420.6 421.5 422.4 1.8852 1.8885 1.8915 121.0 119.5
15.3 0.9935 0.9945 0.9958 420.8 421.6 422.5 1.8860 1.8890 1.8920 121.0 119.5
15.6 0.9928 0.9940 0.9952 421.2 421.9 422.7 1.8870 1.8898 1.8925 121.5 120.0
15.9 0.9922 0.9932 0.9945 421.7 422.3 422.9 1.8876 1.8902 1.8928 124.0 122.5
16.2 0.9918 0.9928 0.9940 422.3 422.9 423.4 1.8885 1.8910 1.8935 127.5 126.0
16.5 0.9912 0.9922 0.9935 423.0 423.5 424.0 1.8895 1.8920 1.8948 130.0 128.5
16.8 0.9906 0.9915 0.9930 423.5 424.0 424.6 1.8910 1.8935 1.8960 132.0 130.5
17.1 0.9904 0.9910 0.9925 424.0 424.5 425.0 1.8920 1.8945 1.8968 134.0 132.5
}\LRd
\pgfplotstableread{
t a1 a2 a3 b1 b2 b3 c1 c2 c3 e1 e2
9.6 1.0005 1.0015 nan 422.2 nan nan nan nan nan 123.5 nan
9.9 1.0002 1.0012 nan 422.6 422.0 nan 1.8876 nan nan 124.0 nan
10.2 1.0008 1.0016 nan 422.4 421.9 nan 1.8880 nan nan 123.0 nan
10.5 1.0004 1.0026 nan 422.0 nan nan 1.8878 nan nan 121.5 nan
10.8 1.0003 nan nan 421.8 nan nan nan nan nan 120.5 nan
11.0 1.0010 nan nan 422.3 nan nan 1.8966 nan nan 120.0 nan
11.5 1.0046 nan nan 422.6 nan nan nan nan nan 119.0 nan
15.2 0.9965 0.9950 nan 420.1 419.6 nan 1.8860 1.8830 nan 110.0 109.0
15.45 0.9955 0.9940 0.9930 420.0 419.4 nan 1.8850 1.8820 1.8805 110.3 109.0
15.7 0.9945 0.9930 0.9920 419.8 419.2 nan 1.8845 1.8815 1.8800 109.5 108.5
15.95 0.9940 0.9925 nan 419.6 419.1 nan 1.8835 1.8810 1.8800 109.0 108.0
16.2 0.9935 0.9918 0.9905 419.5 419.0 nan 1.8830 1.8805 nan 108.5 107.8
}\LRe
\pgfplotstableread{
t a1 a2 a3 b1 b2 b3 c1 c2 c3 e1 e2
10.35 1.0000 1.0012 1.0026 421.6 422.2 422.8 1.8875 1.8905 1.8935 121.0 119.5
10.65 0.9998 1.0012 1.0030 421.7 422.3 423.0 1.8870 1.8900 1.8935 121.2 119.7
10.95 0.9998 1.0014 1.0032 421.8 422.4 423.1 1.8868 1.8900 1.8938 121.3 119.8
11.25 0.9999 1.0015 1.0034 421.7 422.4 423.2 1.8865 1.8900 1.8940 121.5 120.0
11.55 0.9999 1.0016 1.0038 421.7 422.3 423.0 1.8865 1.8902 1.8942 121.5 120.0
11.85 0.9999 1.0015 1.0034 421.7 422.3 423.2 1.8865 1.8905 1.8945 121.8 120.3
12.15 0.9998 1.0014 1.0030 421.6 422.2 422.8 1.8866 1.8905 1.8945 122.0 120.5
12.45 0.9998 1.0012 1.0028 421.6 422.2 422.8 1.8866 1.8905 1.8948 122.0 120.5
12.75 0.9997 1.0010 1.0030 421.6 422.3 423.1 1.8866 1.8905 1.8948 122.3 120.8
13.05 0.9997 1.0010 1.0026 421.6 422.2 422.9 1.8866 1.8905 1.8950 122.5 121.0
13.35 0.9972 1.0008 1.0024 421.6 422.2 422.8 1.8866 1.8905 1.8950 122.5 121.0
13.65 0.9997 1.0010 1.0024 421.6 422.2 422.8 1.8866 1.8905 1.8950 122.5 121.0
13.95 0.9998 1.0012 1.0025 421.6 422.1 422.7 1.8868 1.8905 1.8950 122.5 121.0
14.7 0.9965 0.9975 0.9990 420.8 421.5 422.2 1.8880 1.8905 1.8927 122.0 120.5
15.0 0.9958 0.9968 0.9980 420.6 421.3 422.2 1.8870 1.8900 1.8925 122.0 120.5
15.3 0.9950 0.9960 0.9972 420.4 421.1 422.0 1.8860 1.8895 1.8922 121.5 120.0
15.6 0.9940 0.9950 0.9962 420.2 420.9 421.8 1.8850 1.8885 1.8920 121.3 119.8
15.9 0.9930 0.9940 0.9952 420.0 420.8 421.7 1.8835 1.8875 1.8915 121.0 119.5
16.2 0.9920 0.9930 0.9942 419.9 420.7 421.6 1.8820 1.8860 1.8905 120.8 119.3
16.5 0.9910 0.9920 0.9932 419.9 420.8 421.8 1.8812 1.8850 1.8895 120.8 119.3
16.8 0.9904 0.9912 0.9922 420.0 421.0 422.2 1.8815 1.8855 1.8900 121.0 119.5
17.1 nan 0.9905 0.9915 420.2 421.3 422.4 1.8830 1.8870 1.8910 121.3 119.8
17.35 nan nan nan 420.5 421.5 422.2 1.8850 1.8885 1.8920 121.5 120.0
}\LRf
\pgfplotstableread{
t a1 a2 a3 b1 b2 b3 c1 c2 c3 e1 e2
8.6 1.0020 0.9990 nan 423.0 422.2 nan 1.9000 1.8990 nan 118.5 117.0
8.9 1.0010 1.0026 nan 422.2 421.5 nan 1.8985 1.9010 nan 118.5 117.0
9.2 1.0028 1.0005 nan 421.8 422.7 nan 1.9000 1.9020 nan 119.0 117.5
9.5 1.0015 0.9998 nan 422.8 421.6 nan 1.8992 1.9015 nan 119.5 118.0
9.8 1.0020 1.0003 nan 422.4 421.4 nan 1.9005 1.8990 nan 120.0 118.5
10.1 1.0025 1.0008 nan 423.0 422.0 nan 1.8985 1.9010 nan 121.0 119.5
10.4 1.0012 0.9998 nan 422.2 421.3 nan 1.9000 1.9025 nan 121.5 120.0
10.7 1.0022 1.0005 nan 423.0 421.8 nan 1.8990 1.9015 nan 122.0 120.5
11.0 1.0016 1.0000 nan 422.5 421.5 nan 1.9005 1.8988 nan 122.5 121.0
11.3 1.0028 1.0006 nan 423.2 421.9 nan 1.9010 1.8995 nan 123.0 121.5
11.6 1.0010 0.9998 nan 422.4 421.4 nan 1.8998 1.9020 nan 123.5 122.0
11.9 1.0018 1.0002 nan 423.0 422.0 nan 1.9005 1.8990 nan 124.0 122.5
12.2 1.0031 1.0008 nan 422.2 421.4 nan 1.9015 1.8995 nan 124.5 123.0
12.5 1.0015 0.9999 nan 423.2 421.6 nan 1.9000 1.9025 nan 125.0 123.5
12.8 1.0022 1.0004 nan 422.6 421.5 nan 1.9010 1.8990 nan 125.5 124.0
13.1 1.0012 0.9998 nan 422.0 421.3 nan 1.8998 1.9018 nan 126.0 124.5
13.4 1.0008 0.9999 nan 422.8 421.6 nan 1.8992 1.9010 nan 124.0 122.5
15.3 0.9940 nan nan 423.4 nan nan 1.8953 nan nan 124.5 nan
}\LRg
\pgfplotstableread{
t a1 a2 a3 b1 b2 b3 c1 c2 c3 e1 e2
11.9 0.9990 0.9980 nan 422.0 421.3 nan 1.8900 1.8870 nan 123.0 121.8
12.2 1.0010 0.9985 0.9975 422.4 421.4 nan 1.8915 1.8880 nan 123.3 122.0
12.4 1.0031 1.0015 0.9970 423.6 421.6 nan 1.8978 1.8890 1.8860 123.5 122.2
12.7 1.0020 0.9995 0.9968 422.8 421.4 nan 1.8910 1.8870 1.8850 123.5 122.2
13.0 1.0002 0.9985 0.9965 422.6 421.5 nan 1.8905 1.8875 1.8850 123.5 122.2
13.3 0.9995 0.9975 0.9960 422.5 421.6 nan 1.8910 1.8870 1.8848 123.5 122.2
13.6 0.9990 0.9970 0.9958 422.3 421.6 nan 1.8908 1.8880 1.8850 123.3 122.0
13.9 0.9985 0.9965 0.9955 422.5 421.7 nan 1.8905 1.8875 1.8848 123.3 122.0
14.2 0.9975 0.9960 0.9950 422.6 421.8 nan 1.8910 1.8880 1.8850 123.0 121.8
14.5 0.9965 0.9955 0.9945 422.6 421.9 nan 1.8905 1.8875 1.8848 123.3 122.0
14.8 0.9958 0.9950 0.9940 423.4 422.0 nan 1.8910 1.8880 1.8850 123.5 122.2
15.1 0.9955 0.9945 0.9935 422.8 422.0 nan 1.8912 1.8882 1.8852 123.5 122.2
15.4 0.9950 0.9940 0.9930 422.8 422.1 nan 1.8910 1.8880 1.8850 123.5 122.2
15.7 0.9945 0.9935 0.9925 423.0 422.2 nan 1.8915 1.8885 1.8855 123.8 122.5
16.0 0.9935 0.9925 0.9918 423.3 422.4 nan 1.8918 1.8888 1.8858 124.0 122.8
16.3 0.9925 0.9915 0.9908 423.6 422.8 nan 1.8920 1.8890 1.8860 124.3 123.0
16.6 0.9915 0.9908 0.9902 424.2 423.3 nan 1.8918 1.8888 1.8858 125.0 123.8
16.9 0.9905 0.9900 nan 425.3 424.0 nan 1.8915 1.8885 1.8855 126.0 124.8
17.1 nan nan nan 424.8 nan nan 1.8912 1.8882 nan 126.5 125.3
}\LRh

% ---- TK-LR PROFFAST, further points inside the dense clouds ----
\pgfplotstableread{
u a4 a5 b4 b5 c4 c5
11.35 1.0012 1.0030 422.65 423.15 1.9022 1.9048
11.65 1.0008 1.0024 422.55 423.05 1.9026 1.9052
11.95 1.0006 1.0028 422.45 422.95 1.9030 1.9056
12.25 1.0008 1.0026 422.35 422.8 1.9035 1.9061
12.55 1.0005 1.0018 422.4 422.8 1.9040 1.9065
12.85 1.0002 1.0008 422.5 422.9 1.9044 1.9068
13.15 0.9999 1.0005 422.6 423.0 1.9048 1.9070
13.45 0.9998 1.0002 422.7 423.1 1.9051 1.9072
14.25 0.9982 0.9988 422.05 422.55 1.9022 1.9048
14.55 0.9976 0.9984 421.85 422.35 1.9012 1.9038
14.85 0.9970 0.9979 421.75 422.3 1.9002 1.9030
15.15 0.9965 0.9975 421.65 422.2 1.8994 1.9022
15.45 0.9961 0.9970 421.75 422.3 1.8988 1.9018
15.75 0.9950 0.9960 421.9 422.55 1.8982 1.9012
16.05 0.9940 0.9950 422.25 422.95 1.8978 1.9010
16.35 0.9930 0.9940 422.8 423.6 1.8982 1.9015
16.55 0.9922 0.9930 423.95 424.85 1.8988 1.9020
}\LRax
\pgfplotstableread{
u a4 a5 b4 b5 c4 c5
12.05 1.0009 1.0022 422.6 423.25 1.8985 1.9005
12.35 1.0006 1.0019 422.5 423.15 1.8982 1.9002
12.65 1.0008 1.0022 422.3 422.9 1.8975 1.8995
12.95 1.0008 1.0023 422.1 422.7 1.8965 1.8985
13.25 1.0006 1.0020 421.95 422.5 1.8955 1.8975
13.55 1.0003 1.0014 421.85 422.4 1.8945 1.8965
13.85 1.0000 1.0010 421.8 422.3 1.8932 1.8955
14.15 0.9994 1.0004 421.7 422.15 1.8922 1.8946
14.45 0.9982 0.9993 421.6 422.05 1.8914 1.8940
14.75 0.9968 0.9984 421.4 421.8 1.8908 1.8935
15.05 0.9960 0.9972 421.2 421.6 1.8902 1.8930
15.35 0.9955 0.9965 421.1 421.5 1.8898 1.8925
15.65 0.9951 0.9960 421.0 421.4 1.8892 1.8920
15.95 0.9943 0.9953 421.0 421.4 1.8888 1.8916
16.25 0.9931 0.9942 421.0 421.4 1.8882 1.8912
16.55 0.9920 0.9932 421.0 421.4 1.8878 1.8908
16.85 0.9910 0.9922 421.1 421.55 1.8878 1.8908
17.15 nan 0.9912 421.5 422.15 1.8882 1.8912
}\LRbx
\pgfplotstableread{
u a4 a5 b4 b5 c4 c5
11.25 1.0020 1.0042 421.1 422.1 1.8905 1.8935
11.55 1.0016 1.0038 421.0 422.15 1.8904 1.8934
11.85 1.0009 1.0025 421.0 422.05 1.8900 1.8932
12.15 1.0006 1.0018 420.95 421.95 1.8896 1.8928
12.45 1.0004 1.0014 420.95 421.9 1.8894 1.8925
12.75 1.0002 1.0010 421.05 421.95 1.8892 1.8922
13.05 0.9998 1.0007 421.1 421.9 1.8890 1.8922
13.35 0.9994 1.0003 421.15 421.85 1.8890 1.8922
13.65 0.9985 0.9994 421.2 421.85 1.8890 1.8922
13.95 0.9974 0.9983 421.2 421.85 1.8885 1.8918
14.25 0.9960 0.9971 421.15 421.9 1.8878 1.8910
14.55 0.9955 0.9966 421.0 421.85 1.8872 1.8905
14.85 0.9950 0.9961 420.95 421.9 1.8868 1.8900
15.15 0.9945 0.9956 421.05 421.95 1.8868 1.8900
15.45 0.9940 0.9952 421.2 422.05 1.8875 1.8905
15.75 0.9934 0.9946 421.55 422.3 1.8884 1.8912
16.05 0.9927 0.9938 422.0 422.6 1.8889 1.8915
16.35 0.9923 0.9934 422.6 423.15 1.8898 1.8922
16.65 0.9917 0.9928 423.25 423.75 1.8908 1.8934
16.95 0.9910 0.9922 423.75 424.3 1.8922 1.8948
}\LRdx
\pgfplotstableread{
u a4 a5 b4 b5 c4 c5
10.5 1.0006 1.0019 421.9 422.5 1.8890 1.8920
10.8 1.0005 1.0021 422.0 422.65 1.8885 1.8918
11.1 1.0006 1.0023 422.1 422.75 1.8884 1.8919
11.4 1.0007 1.0024 422.05 422.8 1.8882 1.8920
11.7 1.0008 1.0027 422.0 422.65 1.8884 1.8922
12.0 1.0007 1.0024 422.0 422.75 1.8885 1.8925
12.3 1.0006 1.0022 421.9 422.5 1.8886 1.8925
12.6 1.0005 1.0020 421.9 422.5 1.8886 1.8926
12.9 1.0004 1.0020 421.95 422.7 1.8886 1.8926
13.2 1.0004 1.0018 421.9 422.55 1.8886 1.8928
13.5 1.0000 1.0016 421.9 422.5 1.8886 1.8928
13.8 1.0005 1.0018 421.85 422.4 1.8886 1.8928
14.85 0.9970 0.9982 421.15 421.85 1.8892 1.8916
15.15 0.9963 0.9974 420.95 421.75 1.8885 1.8912
15.45 0.9955 0.9966 420.75 421.55 1.8878 1.8908
15.75 0.9945 0.9956 420.55 421.35 1.8868 1.8902
16.05 0.9935 0.9946 420.4 421.25 1.8855 1.8895
16.35 0.9925 0.9936 420.3 421.15 1.8840 1.8882
16.65 0.9915 0.9926 420.35 421.3 1.8831 1.8872
16.95 0.9908 0.9917 420.5 421.6 1.8835 1.8878
17.25 nan 0.9910 420.75 421.85 1.8850 1.8890
}\LRfx
\pgfplotstableread{
u a4 a5 b4 b5 c4 c5
12.05 0.9985 nan 421.65 nan 1.8885 nan
12.3 0.9998 0.9980 421.9 nan 1.8898 nan
12.55 1.0023 0.9992 422.6 nan 1.8934 1.8875
12.85 1.0008 0.9982 422.1 nan 1.8890 1.8860
13.15 0.9994 0.9975 422.05 nan 1.8890 1.8862
13.45 0.9985 0.9968 422.05 nan 1.8890 1.8859
13.75 0.9980 0.9964 421.95 nan 1.8894 1.8865
14.05 0.9975 0.9960 422.1 nan 1.8890 1.8862
14.35 0.9968 0.9955 422.2 nan 1.8895 1.8865
14.65 0.9960 0.9950 422.25 nan 1.8890 1.8862
14.95 0.9954 0.9945 422.7 nan 1.8895 1.8865
15.25 0.9950 0.9940 422.4 nan 1.8897 1.8867
15.55 0.9945 0.9935 422.45 nan 1.8895 1.8865
15.85 0.9940 0.9930 422.6 nan 1.8900 1.8870
16.15 0.9930 0.9922 422.85 nan 1.8903 1.8873
16.45 0.9920 0.9912 423.2 nan 1.8905 1.8875
16.75 0.9912 0.9905 423.75 nan 1.8903 1.8873
}\LRhx

% ---------------- TK-LR GGG (XCO only) ----------------
\pgfplotstableread{
t g1 g2
11.2 125.0 123.5
11.5 125.5 124.0
11.8 126.0 124.5
12.1 127.0 125.5
12.4 128.0 126.5
12.7 129.0 127.5
13.0 130.0 128.5
13.3 131.0 129.5
13.6 131.8 130.3
14.1 132.0 130.5
14.4 132.5 131.0
14.7 133.0 131.5
15.0 133.8 132.3
15.3 134.5 133.0
15.6 135.7 134.2
15.9 137.5 135.5
16.2 143.5 141.0
16.45 150.0 147.0
16.65 144.0 142.0
}\GGa
\pgfplotstableread{
t g1 g2
11.9 119.5 118.0
12.2 118.5 117.0
12.5 117.5 116.0
12.8 116.5 115.0
13.1 115.5 114.0
13.4 114.5 113.0
13.7 114.0 112.5
14.0 113.5 112.0
14.3 113.5 112.0
14.6 113.0 111.5
14.9 112.5 111.0
15.2 112.0 110.5
15.5 111.5 110.0
15.8 111.0 109.5
16.1 111.0 109.5
16.4 110.5 109.0
16.7 110.5 109.0
17.0 110.5 109.0
17.3 109.5 108.0
}\GGb
\pgfplotstableread{
t g1 g2
13.0 125.5 nan
13.15 128.4 nan
14.3 121.6 nan
}\GGc
\pgfplotstableread{
t g1 g2
11.1 122.5 121.5
11.4 122.4 121.3
11.7 122.3 121.3
12.0 122.2 121.2
12.3 122.2 121.2
12.6 122.2 121.2
12.9 122.0 121.0
13.2 122.0 121.0
13.5 122.2 121.2
13.8 122.4 121.4
14.1 122.4 121.4
14.4 122.2 121.2
14.7 122.0 121.0
15.0 122.0 121.0
15.3 122.2 121.2
15.6 122.8 121.8
15.9 125.5 124.5
16.2 128.5 127.5
16.5 130.5 129.5
16.8 132.5 131.5
17.1 134.0 133.0
}\GGd
\pgfplotstableread{
t g1 g2
9.42 136.7 nan
9.6 129.8 nan
9.8 128.5 nan
10.0 129.0 nan
10.3 126.5 nan
10.6 125.0 nan
10.9 123.5 nan
11.2 122.0 nan
11.6 119.6 nan
15.3 112.0 nan
15.58 113.0 nan
15.8 111.5 nan
16.0 110.5 nan
16.3 108.0 nan
}\GGe
\pgfplotstableread{
t g1 g2
10.35 123.5 122.3
10.65 123.7 122.5
10.95 123.8 122.6
11.25 124.0 122.8
11.55 124.0 122.8
11.85 124.3 123.0
12.15 124.5 123.3
12.45 124.5 123.3
12.75 124.8 123.5
13.05 125.0 123.8
13.35 125.0 123.8
13.65 125.0 123.8
13.95 125.0 123.8
14.7 124.5 123.2
15.0 124.5 123.2
15.3 124.0 122.8
15.6 123.8 122.5
15.9 123.5 122.3
16.2 123.3 122.0
16.5 123.3 122.0
16.8 123.5 122.2
17.1 123.8 122.5
17.35 124.0 122.8
}\GGf
\pgfplotstableread{
t g1 g2
8.6 119.8 118.5
8.9 120.0 118.8
9.2 120.5 119.0
9.5 121.0 119.5
9.8 121.5 120.0
10.1 122.0 120.5
10.4 122.8 121.3
10.7 123.5 122.0
11.0 124.2 122.5
11.3 125.0 123.5
11.6 125.8 124.0
11.9 126.5 124.8
12.2 127.5 125.5
12.5 128.5 126.5
12.8 130.0 127.5
13.1 129.0 127.0
13.4 126.0 125.0
14.7 126.5 125.0
15.0 126.5 125.0
15.3 126.0 125.0
}\GGg
\pgfplotstableread{
t g1 g2
12.0 124.0 nan
12.5 124.3 nan
13.0 124.5 nan
13.5 124.3 nan
14.0 124.0 nan
14.5 124.3 nan
15.0 124.5 nan
15.5 124.5 nan
16.0 125.0 nan
16.5 125.8 nan
}\GGh

\pgfplotsset{
  panel/.style={
    scale only axis, width=63.5bp, height=68bp, anchor=north west,
    xmin=7, xmax=18.15, xtick={8,14}, minor xtick={10,12,16},
    xticklabels={,,},
    xmajorgrids, ymajorgrids,
    grid style={gridgray, line width=0.7bp},
    axis background/.style={fill=bgpanel},
    separate axis lines, axis line style={draw=none},
    tick align=outside, xtick pos=left, ytick pos=left,
    major tick length=2.8bp, minor tick length=2.8bp,
    tick style={black, line width=0.6bp},
    tick label style={font=\fontsize{10}{12}\selectfont},
    after end axis/.append code={
      \draw[line width=0.8bp] (rel axis cs:0,0)--(rel axis cs:1,0) (rel axis cs:0,1)--(rel axis cs:1,1);},
  },
  rbrk/.style={after end axis/.append code={
      \draw[line width=1.1bp] (rel axis cs:1,0) ++(-1.3bp,-2.2bp) -- ++(2.6bp,4.4bp)
                              (rel axis cs:1,1) ++(-1.3bp,-2.2bp) -- ++(2.6bp,4.4bp);}},
  lbrk/.style={after end axis/.append code={
      \draw[line width=1.1bp] (rel axis cs:0,0) ++(-1.3bp,-2.2bp) -- ++(2.6bp,4.4bp)
                              (rel axis cs:0,1) ++(-1.3bp,-2.2bp) -- ++(2.6bp,4.4bp);}},
  colN/.style={ytick style={draw=none}, yticklabels={,,,}},
  col0/.style={rbrk, after end axis/.append code={
      \draw[line width=0.8bp] (rel axis cs:0,0)--(rel axis cs:0,1);}},
  col1/.style={colN, lbrk, rbrk}, col2/.style={colN, lbrk, rbrk},
  col3/.style={colN, lbrk, rbrk}, col4/.style={colN, lbrk, rbrk},
  col5/.style={colN, lbrk, rbrk}, col6/.style={colN, lbrk, rbrk},
  col7/.style={colN, lbrk},
  row0/.style={ymin=0.99, ymax=1.01, ytick={0.99,1.0,1.01}, yticklabels={0.99,1.00,1.01}},
  row1/.style={ymin=417.95, ymax=426.4, ytick={420,425}, yticklabels={420,425}},
  row2/.style={ymin=1.8735, ymax=1.9256, ytick={1.88,1.90,1.92}, yticklabels={1.88,1.90,1.92}},
  row3/.style={ymin=90, ymax=160, ytick={100,125,150}, yticklabels={100,125,150},
    xticklabels={08:00,14:00},
    xticklabel style={rotate=45, anchor=east, inner sep=0pt, xshift=8.1bp, yshift=-11.9bp}},
  hrs/.style={only marks, mark=pentagon*, mark size=2.5bp, mark options={draw=hrred, fill=hrred, line width=0.2bp}},
  lrs/.style={only marks, mark=fstar, mark size=2.4bp, mark options={draw=lrorange, fill=lrorange, line width=0.2bp}},
  tss/.style={only marks, mark=*, mark size=2.0bp, mark options={draw=tsblue, fill=tsblue, line width=0.2bp}},
  ggs/.style={only marks, mark=triangle*, mark size=2.3bp, mark options={draw=gggdark, fill=gggdark, line width=0.2bp}},
}

% #1 column, #2 TS, #3 HR, #4 LR, #5 GGG, #6 date, #7 HR extra, #8 LR extra
\newcommand\DayColumn[8]{%
  \begin{axis}[panel, row0, col#1, at={(46.3bp+65.6bp*#1,-21.5bp)}]
    \addplot[hrs] table[x=t,y=a1]{#3};
    \addplot[hrs] table[x=t,y=a2]{#3};
    \addplot[hrs] table[x=t,y=a3]{#3};
    \addplot[hrs] table[x=u,y=a4]{#7};
    \addplot[hrs] table[x=u,y=a5]{#7};
    \addplot[lrs] table[x=t,y=a1]{#4};
    \addplot[lrs] table[x=t,y=a2]{#4};
    \addplot[lrs] table[x=t,y=a3]{#4};
    \addplot[lrs] table[x=u,y=a4]{#8};
    \addplot[lrs] table[x=u,y=a5]{#8};
    \addplot[tss] table[x=t,y=a]{#2};
  \end{axis}
  \begin{axis}[panel, row1, col#1, at={(46.3bp+65.6bp*#1,-91bp)}]
    \addplot[hrs] table[x=t,y=b1]{#3};
    \addplot[hrs] table[x=t,y=b2]{#3};
    \addplot[hrs] table[x=t,y=b3]{#3};
    \addplot[hrs] table[x=u,y=b4]{#7};
    \addplot[hrs] table[x=u,y=b5]{#7};
    \addplot[lrs] table[x=t,y=b1]{#4};
    \addplot[lrs] table[x=t,y=b2]{#4};
    \addplot[lrs] table[x=t,y=b3]{#4};
    \addplot[lrs] table[x=u,y=b4]{#8};
    \addplot[lrs] table[x=u,y=b5]{#8};
    \addplot[tss] table[x=t,y=b]{#2};
  \end{axis}
  \begin{axis}[panel, row2, col#1, at={(46.3bp+65.6bp*#1,-160.5bp)}]
    \addplot[hrs] table[x=t,y=c1]{#3};
    \addplot[hrs] table[x=t,y=c2]{#3};
    \addplot[hrs] table[x=t,y=c3]{#3};
    \addplot[hrs] table[x=u,y=c4]{#7};
    \addplot[hrs] table[x=u,y=c5]{#7};
    \addplot[lrs] table[x=t,y=c1]{#4};
    \addplot[lrs] table[x=t,y=c2]{#4};
    \addplot[lrs] table[x=t,y=c3]{#4};
    \addplot[lrs] table[x=u,y=c4]{#8};
    \addplot[lrs] table[x=u,y=c5]{#8};
    \addplot[tss] table[x=t,y=c]{#2};
  \end{axis}
  \begin{axis}[panel, row3, col#1, at={(46.3bp+65.6bp*#1,-230bp)}]
    \addplot[hrs] table[x=t,y=e1]{#3};
    \addplot[hrs] table[x=t,y=e2]{#3};
    \addplot[ggs] table[x=t,y=g1]{#5};
    \addplot[ggs] table[x=t,y=g2]{#5};
    \addplot[lrs] table[x=t,y=e1]{#4};
    \addplot[lrs] table[x=t,y=e2]{#4};
    \addplot[tss] table[x=t,y=e]{#2};
  \end{axis}
  \node[anchor=base, font=\fontsize{10}{12}\selectfont] at (78.05bp+65.6bp*#1,-14.5bp) {#6};
}

\begin{document}
\begin{tikzpicture}
\path[use as bounding box] (0,0) rectangle (567.5bp,-336.5bp);
\DayColumn{0}{\TSa}{\HRa}{\LRa}{\GGa}{2022-03-25}{\HRax}{\LRax}
\DayColumn{1}{\TSb}{\HRb}{\LRb}{\GGb}{2022-04-06}{\HRbx}{\LRbx}
\DayColumn{2}{\TSc}{\HRc}{\LRc}{\GGc}{2022-04-07}{\NOX}{\NOX}
\DayColumn{3}{\TSd}{\HRd}{\LRd}{\GGd}{2022-04-08}{\HRdx}{\LRdx}
\DayColumn{4}{\TSe}{\HRe}{\LRe}{\GGe}{2022-04-11}{\NOX}{\NOX}
\DayColumn{5}{\TSf}{\HRf}{\LRf}{\GGf}{2022-04-12}{\HRfx}{\LRfx}
\DayColumn{6}{\TSg}{\HRg}{\LRg}{\GGg}{2022-04-19}{\NOX}{\NOX}
\DayColumn{7}{\TSh}{\HRh}{\LRh}{\GGh}{2022-04-22}{\NOX}{\LRhx}

% legend
\begin{axis}[at={(51bp,-143.5bp)}, anchor=north west, scale only axis, width=5bp, height=5bp,
  hide axis, xmin=0, xmax=1, ymin=0, ymax=1,
  legend columns=2, legend cell align=left,
  legend style={at={(0,1)}, anchor=north west, draw=legendgray, line width=0.5bp,
    fill=white, fill opacity=0.8, text opacity=1, rounded corners=2.5bp,
    font=\fontsize{8.5}{10}\selectfont, inner xsep=4bp, inner ysep=3bp, row sep=3bp,
    /tikz/every even column/.append style={column sep=23bp}},
  legend image code/.code={\path[draw=none, fill=none] (0bp,-3bp) rectangle (23.3bp,3bp);
    \draw[#1, fill opacity=1] plot coordinates {(8.5bp,0bp)};}]
  \addlegendimage{only marks, mark=pentagon*, mark size=1.9bp, draw=hrred, fill=hrred}
  \addlegendentry{TK-HR}
  \addlegendimage{only marks, mark=*, mark size=1.3bp, draw=tsblue, fill=tsblue}
  \addlegendentry{TS}
  \addlegendimage{only marks, mark=fstar, mark size=1.9bp, draw=lrorange, fill=lrorange}
  \addlegendentry{TK-LR, PROFFAST}
  \addlegendimage{only marks, mark=triangle*, mark size=2.0bp, draw=gggdark, fill=gggdark}
  \addlegendentry{TK-LR, GGG}
\end{axis}

% axis labels
\begin{scope}[font=\fontsize{9.5}{11}\selectfont]
\node[rotate=90] at (11bp,-55.5bp) {XAIR$_{\mathrm{GGG}}$};
\node[rotate=90] at (11bp,-125bp) {XCO$_2$[ppm]};
\node[rotate=90] at (11bp,-194.5bp) {XCH$_4$[ppm]};
\node[rotate=90] at (11bp,-264bp) {XCO[ppb]};
\end{scope}
\node[anchor=base, font=\fontsize{10}{12}\selectfont] at (286.5bp,-335.5bp) {Local time};
\end{tikzpicture}
\end{document}
